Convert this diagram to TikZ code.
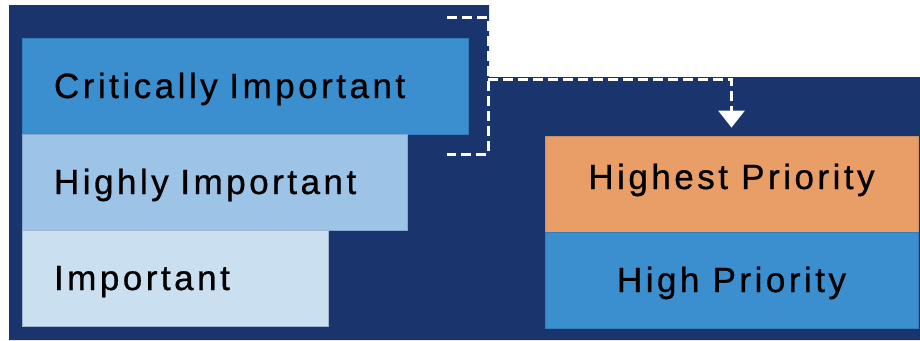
\documentclass[tikz,border=0pt]{standalone}
\usepackage{fontspec}
\setmainfont{Liberation Sans}[LetterSpace=10,FakeBold=0.8]
\usetikzlibrary{arrows.meta}
\definecolor{navy}{HTML}{1A356E}
\definecolor{critblue}{HTML}{3B8FCE}
\definecolor{highblue}{HTML}{9DC3E6}
\definecolor{paleblue}{HTML}{CADFEF}
\definecolor{orangebox}{HTML}{E89E66}
\tikzset{
  levelbox/.style={rectangle, inner sep=0pt, line width=0.8pt, minimum height=96pt,
    text height=24pt, text depth=0pt, font=\fontsize{35}{40}\selectfont, text=black},
  leftbox/.style={levelbox, align=left, inner xsep=32pt},
  rightbox/.style={levelbox, align=center, minimum width=373pt},
  dashline/.style={draw=white, line width=3pt, dash pattern=on 10pt off 5pt}
}
\begin{document}
\begin{tikzpicture}[x=1pt,y=-1pt]
\useasboundingbox (0,0) rectangle (920,340);
\fill[navy] (9,5) -- (489,5) -- (489,77) -- (920,77) -- (920,340) -- (9,340) -- cycle;
\node[leftbox, fill=critblue, draw=critblue!80!navy, text width=382pt] (crit) at (245,86) {Critically Important};
\node[leftbox, fill=highblue, draw=highblue!80!navy, text width=321pt] (highly) at (214.5,182) {Highly Important};
\node[leftbox, fill=paleblue, draw=paleblue!75!navy, text width=242pt] (imp) at (175,278) {Important};
\node[rightbox, fill=orangebox, draw=orangebox!85!navy, text depth=14pt] (highest) at (731.5,184) {Highest Priority};
\node[rightbox, fill=critblue, draw=critblue!80!navy] (high) at (731.5,280) {High Priority};
\coordinate (brtop) at (447,17);
\coordinate (brbot) at (447,154);
\coordinate (brmid) at (488,79);
\draw[dashline] (brtop) -| (brmid) |- (brbot);
\draw[dashline, -{Triangle[width=26pt,length=17pt]}] (brmid) -| ([yshift=8pt]highest.north);
\end{tikzpicture}
\end{document}
